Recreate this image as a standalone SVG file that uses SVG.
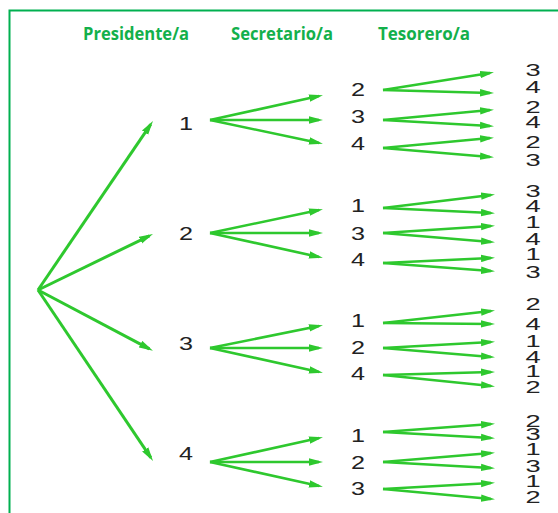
<svg xmlns="http://www.w3.org/2000/svg" width="558" height="513" viewBox="0 0 558 513">
<style>
.hd{font-family:"Open Sans","Liberation Sans",Arial,sans-serif;font-weight:bold;font-size:17.5px;fill:#13b04b}
.d{font-family:"Liberation Sans",Arial,sans-serif;font-size:18px;fill:#222;text-anchor:middle}
.r{font-family:"Liberation Sans",Arial,sans-serif;font-size:16.5px;fill:#222;text-anchor:middle}
.a{stroke:#2ec82e;stroke-width:2.6;fill:none;marker-end:url(#ah)}
.a1{stroke:#2ec82e;stroke-width:3;fill:none;marker-end:url(#ah)}
</style>
<defs>
<marker id="ah" markerUnits="userSpaceOnUse" viewBox="0 0 14 8" markerWidth="14" markerHeight="8" refX="10" refY="4" orient="auto">
<path d="M0,0.3 L14,4 L0,7.7 z" fill="#2ec82e"/>
</marker>
<clipPath id="cb"><rect x="0" y="0" width="558" height="503"/></clipPath>
</defs>
<rect width="558" height="513" fill="#fff"/>
<path d="M9.5,513 V10.5 H558" fill="none" stroke="#00b050" stroke-width="2"/>
<g id="headers">
<text class="hd" x="83" y="40" textLength="106" lengthAdjust="spacingAndGlyphs">Presidente/a</text>
<text class="hd" x="231" y="40" textLength="102" lengthAdjust="spacingAndGlyphs">Secretario/a</text>
<text class="hd" x="378" y="40" textLength="92" lengthAdjust="spacingAndGlyphs">Tesorero/a</text>
</g>
<g id="connectors">
<line class="a1" x1="38" y1="290" x2="150.7" y2="124.3"/>
<line class="a1" x1="38" y1="290" x2="149.4" y2="235.8"/>
<line class="a1" x1="38" y1="290" x2="149.4" y2="348.8"/>
<line class="a1" x1="38" y1="290" x2="150.8" y2="457.7"/>
<line class="a" x1="210" y1="120" x2="319" y2="96"/>
<line class="a" x1="210" y1="120" x2="319" y2="120"/>
<line class="a" x1="210" y1="120" x2="319" y2="143"/>
<line class="a" x1="210" y1="233" x2="319" y2="210"/>
<line class="a" x1="210" y1="233" x2="319" y2="233"/>
<line class="a" x1="210" y1="233" x2="319" y2="257"/>
<line class="a" x1="210" y1="348" x2="319" y2="326"/>
<line class="a" x1="210" y1="348" x2="319" y2="348"/>
<line class="a" x1="210" y1="348" x2="319" y2="372"/>
<line class="a" x1="210" y1="462" x2="319" y2="438"/>
<line class="a" x1="210" y1="462" x2="319" y2="462"/>
<line class="a" x1="210" y1="462" x2="319" y2="486"/>
<line class="a" x1="383" y1="90" x2="490" y2="73"/>
<line class="a" x1="383" y1="90" x2="490" y2="93"/>
<line class="a" x1="383" y1="120" x2="490" y2="110"/>
<line class="a" x1="383" y1="120" x2="490" y2="126"/>
<line class="a" x1="383" y1="148" x2="490" y2="138"/>
<line class="a" x1="383" y1="148" x2="490" y2="157"/>
<line class="a" x1="383" y1="208" x2="491" y2="195"/>
<line class="a" x1="383" y1="208" x2="491" y2="213"/>
<line class="a" x1="383" y1="233" x2="491" y2="226"/>
<line class="a" x1="383" y1="233" x2="491" y2="242"/>
<line class="a" x1="383" y1="263" x2="491" y2="258"/>
<line class="a" x1="383" y1="263" x2="491" y2="271"/>
<line class="a" x1="383" y1="323" x2="491" y2="311"/>
<line class="a" x1="383" y1="323" x2="491" y2="324"/>
<line class="a" x1="383" y1="348" x2="491" y2="342"/>
<line class="a" x1="383" y1="348" x2="491" y2="357"/>
<line class="a" x1="383" y1="375" x2="491" y2="372"/>
<line class="a" x1="383" y1="375" x2="491" y2="386"/>
<line class="a" x1="383" y1="432" x2="491" y2="424"/>
<line class="a" x1="383" y1="432" x2="491" y2="438"/>
<line class="a" x1="383" y1="462" x2="491" y2="453"/>
<line class="a" x1="383" y1="462" x2="491" y2="468"/>
<line class="a" x1="383" y1="489" x2="491" y2="483"/>
<line class="a" x1="383" y1="489" x2="491" y2="499"/>
</g>
<g id="level1">
<g id="p1"><text class="d" transform="translate(186,130) scale(1.4,1)">1</text></g>
<g id="p2"><text class="d" transform="translate(186,240) scale(1.4,1)">2</text></g>
<g id="p3"><text class="d" transform="translate(186,350) scale(1.4,1)">3</text></g>
<g id="p4"><text class="d" transform="translate(186,460) scale(1.4,1)">4</text></g>
</g>
<g id="level2">
<g id="s1-2"><text class="d" transform="translate(358,96) scale(1.4,1)">2</text></g>
<g id="s1-3"><text class="d" transform="translate(358,123) scale(1.4,1)">3</text></g>
<g id="s1-4"><text class="d" transform="translate(358,150) scale(1.4,1)">4</text></g>
<g id="s2-1"><text class="d" transform="translate(358,212) scale(1.4,1)">1</text></g>
<g id="s2-3"><text class="d" transform="translate(358,240) scale(1.4,1)">3</text></g>
<g id="s2-4"><text class="d" transform="translate(358,266) scale(1.4,1)">4</text></g>
<g id="s3-1"><text class="d" transform="translate(358,327) scale(1.4,1)">1</text></g>
<g id="s3-2"><text class="d" transform="translate(358,354) scale(1.4,1)">2</text></g>
<g id="s3-4"><text class="d" transform="translate(358,380) scale(1.4,1)">4</text></g>
<g id="s4-1"><text class="d" transform="translate(358,442) scale(1.4,1)">1</text></g>
<g id="s4-2"><text class="d" transform="translate(358,469) scale(1.4,1)">2</text></g>
<g id="s4-3"><text class="d" transform="translate(358,495) scale(1.4,1)">3</text></g>
</g>
<g id="level3" clip-path="url(#cb)">
<g id="t1"><text class="r" transform="translate(533,76) scale(1.65,1)">3</text></g>
<g id="t2"><text class="r" transform="translate(533,93) scale(1.65,1)">4</text></g>
<g id="t3"><text class="r" transform="translate(533,113) scale(1.65,1)">2</text></g>
<g id="t4"><text class="r" transform="translate(533,128) scale(1.65,1)">4</text></g>
<g id="t5"><text class="r" transform="translate(533,148) scale(1.65,1)">2</text></g>
<g id="t6"><text class="r" transform="translate(533,166) scale(1.65,1)">3</text></g>
<g id="t7"><text class="r" transform="translate(533,197) scale(1.65,1)">3</text></g>
<g id="t8"><text class="r" transform="translate(533,212) scale(1.65,1)">4</text></g>
<g id="t9"><text class="r" transform="translate(533,228) scale(1.65,1)">1</text></g>
<g id="t10"><text class="r" transform="translate(533,245) scale(1.65,1)">4</text></g>
<g id="t11"><text class="r" transform="translate(533,260) scale(1.65,1)">1</text></g>
<g id="t12"><text class="r" transform="translate(533,278) scale(1.65,1)">3</text></g>
<g id="t13"><text class="r" transform="translate(533,310) scale(1.65,1)">2</text></g>
<g id="t14"><text class="r" transform="translate(533,330) scale(1.65,1)">4</text></g>
<g id="t15"><text class="r" transform="translate(533,347) scale(1.65,1)">1</text></g>
<g id="t16"><text class="r" transform="translate(533,363) scale(1.65,1)">4</text></g>
<g id="t17"><text class="r" transform="translate(533,377) scale(1.65,1)">1</text></g>
<g id="t18"><text class="r" transform="translate(533,393) scale(1.65,1)">2</text></g>
<g id="t19"><text class="r" transform="translate(533,427) scale(1.65,1)">2</text></g>
<g id="t20"><text class="r" transform="translate(533,440) scale(1.65,1)">3</text></g>
<g id="t21"><text class="r" transform="translate(533,455) scale(1.65,1)">1</text></g>
<g id="t22"><text class="r" transform="translate(533,472) scale(1.65,1)">3</text></g>
<g id="t23"><text class="r" transform="translate(533,487) scale(1.65,1)">1</text></g>
<g id="t24"><text class="r" transform="translate(533,503) scale(1.65,1)">2</text></g>
</g>
</svg>
